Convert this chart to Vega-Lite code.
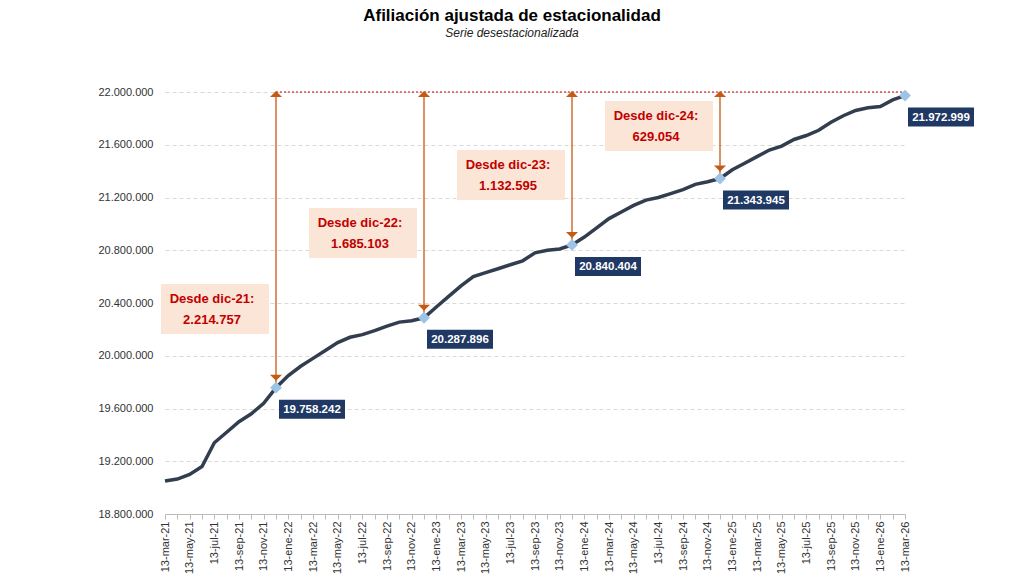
{
  "$schema": "https://vega.github.io/schema/vega-lite/v6.json",
  "width": 740,
  "height": 422,
  "autosize": {"type": "none"},
  "padding": {"left": 165, "top": 92, "right": 119, "bottom": 74},
  "background": "white",
  "config": {
    "locale": {"number": {"decimal": ",", "thousands": ".", "grouping": [3], "currency": ["", " €"]}},
    "view": {"stroke": null},
    "font": "Liberation Sans"
  },
  "title": {
    "text": "Afiliación ajustada de estacionalidad",
    "subtitle": "Serie desestacionalizada",
    "fontSize": 17,
    "fontWeight": "bold",
    "subtitleFontSize": 12,
    "subtitleFontStyle": "italic",
    "subtitleColor": "#222",
    "anchor": "middle",
    "dx": -23,
    "offset": 46
  },
  "datasets": {
    "serie": [
      {"m": "13-mar-21", "v": 19050000}, {"m": "13-abr-21", "v": 19065000}, {"m": "13-may-21", "v": 19100000},
      {"m": "13-jun-21", "v": 19160000}, {"m": "13-jul-21", "v": 19340000}, {"m": "13-ago-21", "v": 19420000},
      {"m": "13-sep-21", "v": 19500000}, {"m": "13-oct-21", "v": 19560000}, {"m": "13-nov-21", "v": 19640000},
      {"m": "13-dic-21", "v": 19758242}, {"m": "13-ene-22", "v": 19850000}, {"m": "13-feb-22", "v": 19920000},
      {"m": "13-mar-22", "v": 19980000}, {"m": "13-abr-22", "v": 20040000}, {"m": "13-may-22", "v": 20100000},
      {"m": "13-jun-22", "v": 20140000}, {"m": "13-jul-22", "v": 20160000}, {"m": "13-ago-22", "v": 20190000},
      {"m": "13-sep-22", "v": 20225000}, {"m": "13-oct-22", "v": 20255000}, {"m": "13-nov-22", "v": 20265000},
      {"m": "13-dic-22", "v": 20287896}, {"m": "13-ene-23", "v": 20370000}, {"m": "13-feb-23", "v": 20450000},
      {"m": "13-mar-23", "v": 20530000}, {"m": "13-abr-23", "v": 20600000}, {"m": "13-may-23", "v": 20630000},
      {"m": "13-jun-23", "v": 20660000}, {"m": "13-jul-23", "v": 20690000}, {"m": "13-ago-23", "v": 20720000},
      {"m": "13-sep-23", "v": 20780000}, {"m": "13-oct-23", "v": 20800000}, {"m": "13-nov-23", "v": 20810000},
      {"m": "13-dic-23", "v": 20840404}, {"m": "13-ene-24", "v": 20900000}, {"m": "13-feb-24", "v": 20970000},
      {"m": "13-mar-24", "v": 21040000}, {"m": "13-abr-24", "v": 21090000}, {"m": "13-may-24", "v": 21140000},
      {"m": "13-jun-24", "v": 21180000}, {"m": "13-jul-24", "v": 21200000}, {"m": "13-ago-24", "v": 21230000},
      {"m": "13-sep-24", "v": 21260000}, {"m": "13-oct-24", "v": 21300000}, {"m": "13-nov-24", "v": 21320000},
      {"m": "13-dic-24", "v": 21343945}, {"m": "13-ene-25", "v": 21410000}, {"m": "13-feb-25", "v": 21460000},
      {"m": "13-mar-25", "v": 21510000}, {"m": "13-abr-25", "v": 21560000}, {"m": "13-may-25", "v": 21590000},
      {"m": "13-jun-25", "v": 21640000}, {"m": "13-jul-25", "v": 21670000}, {"m": "13-ago-25", "v": 21710000},
      {"m": "13-sep-25", "v": 21770000}, {"m": "13-oct-25", "v": 21820000}, {"m": "13-nov-25", "v": 21860000},
      {"m": "13-dic-25", "v": 21880000}, {"m": "13-ene-26", "v": 21890000}, {"m": "13-feb-26", "v": 21940000},
      {"m": "13-mar-26", "v": 21972999}
    ],
    "hitos": [
      {"m": "13-dic-21", "v": 19758242, "top": 22000000, "at": 20355000, "l1": "Desde dic-21:", "l2": "2.214.757"},
      {"m": "13-dic-22", "v": 20287896, "top": 22000000, "at": 20931000, "l1": "Desde dic-22:", "l2": "1.685.103"},
      {"m": "13-dic-23", "v": 20840404, "top": 22000000, "at": 21370000, "l1": "Desde dic-23:", "l2": "1.132.595"},
      {"m": "13-dic-24", "v": 21343945, "top": 22000000, "at": 21742000, "l1": "Desde dic-24:", "l2": "629.054"}
    ],
    "puntos": [
      {"m": "13-dic-21", "v": 19758242},
      {"m": "13-dic-22", "v": 20287896},
      {"m": "13-dic-23", "v": 20840404},
      {"m": "13-dic-24", "v": 21343945},
      {"m": "13-mar-26", "v": 21972999}
    ],
    "techo": [
      {"m": "13-dic-21", "v": 22000000},
      {"m": "13-mar-26", "v": 22000000}
    ]
  },
  "encoding": {
    "x": {
      "field": "m", "type": "ordinal", "sort": null,
      "scale": {"type": "point", "padding": 0},
      "axis": {
        "title": null, "labelAngle": -90, "labelFontSize": 11, "labelColor": "#333",
        "grid": false, "domainColor": "#bbb", "tickColor": "#bbb",
        "labelExpr": "indexof(['mar','may','jul','sep','nov','ene'], split(datum.value, '-')[1]) >= 0 ? datum.value : ''"
      }
    },
    "y": {
      "field": "v", "type": "quantitative",
      "scale": {"domain": [18800000, 22000000], "nice": false, "zero": false},
      "axis": {
        "title": null, "format": ",d", "values": [18800000, 19200000, 19600000, 20000000, 20400000, 20800000, 21200000, 21600000, 22000000],
        "labelFontSize": 11, "labelColor": "#333", "domain": false, "ticks": false, "labelPadding": 12,
        "gridDash": [4, 3], "gridColor": "#d9d9d9"
      }
    }
  },
  "layer": [
    {
      "data": {"name": "serie"},
      "mark": {"type": "line", "color": "#323e50", "strokeWidth": 3.5}
    },
    {
      "data": {"name": "techo"},
      "mark": {"type": "line", "color": "#c00000", "strokeDash": [2, 2], "strokeWidth": 1},
      "encoding": {}
    },
    {
      "data": {"name": "hitos"},
      "mark": {"type": "rule", "color": "#c55a11", "strokeWidth": 1.3},
      "encoding": {"y2": {"field": "top"}}
    },
    {
      "data": {"name": "hitos"},
      "mark": {"type": "point", "shape": "M-0.12,0.1L0,-0.02L0.12,0.1Z", "size": 10000, "filled": true, "color": "#c55a11", "opacity": 1},
      "encoding": {"y": {"field": "top"}}
    },
    {
      "data": {"name": "hitos"},
      "mark": {"type": "point", "shape": "M-0.12,-0.26L0,-0.14L0.12,-0.26Z", "size": 10000, "filled": true, "color": "#c55a11", "opacity": 1}
    },
    {
      "data": {"name": "hitos"},
      "mark": {"type": "point", "shape": "M-2.3,-0.5H-0.14V0.5H-2.3Z", "size": 10000, "filled": true, "color": "#fbe5d6", "opacity": 1},
      "encoding": {"y": {"field": "at"}}
    },
    {
      "data": {"name": "hitos"},
      "mark": {"type": "text", "dx": -64, "dy": -10, "color": "#c00000", "fontWeight": "bold", "fontSize": 13},
      "encoding": {"y": {"field": "at"}, "text": {"field": "l1"}}
    },
    {
      "data": {"name": "hitos"},
      "mark": {"type": "text", "dx": -64, "dy": 11, "color": "#c00000", "fontWeight": "bold", "fontSize": 13},
      "encoding": {"y": {"field": "at"}, "text": {"field": "l2"}}
    },
    {
      "data": {"name": "puntos"},
      "mark": {"type": "point", "shape": "M0.06,0.24H1.38V0.62H0.06Z", "size": 10000, "filled": true, "color": "#1f3864", "opacity": 1}
    },
    {
      "data": {"name": "puntos"},
      "mark": {"type": "text", "dx": 36, "dy": 22, "color": "white", "fontWeight": "bold", "fontSize": 11.5},
      "encoding": {"text": {"field": "v", "type": "quantitative", "format": ",d"}}
    },
    {
      "data": {"name": "puntos"},
      "mark": {"type": "point", "shape": "diamond", "size": 140, "filled": true, "color": "#9dc3e6", "opacity": 1}
    }
  ]
}
